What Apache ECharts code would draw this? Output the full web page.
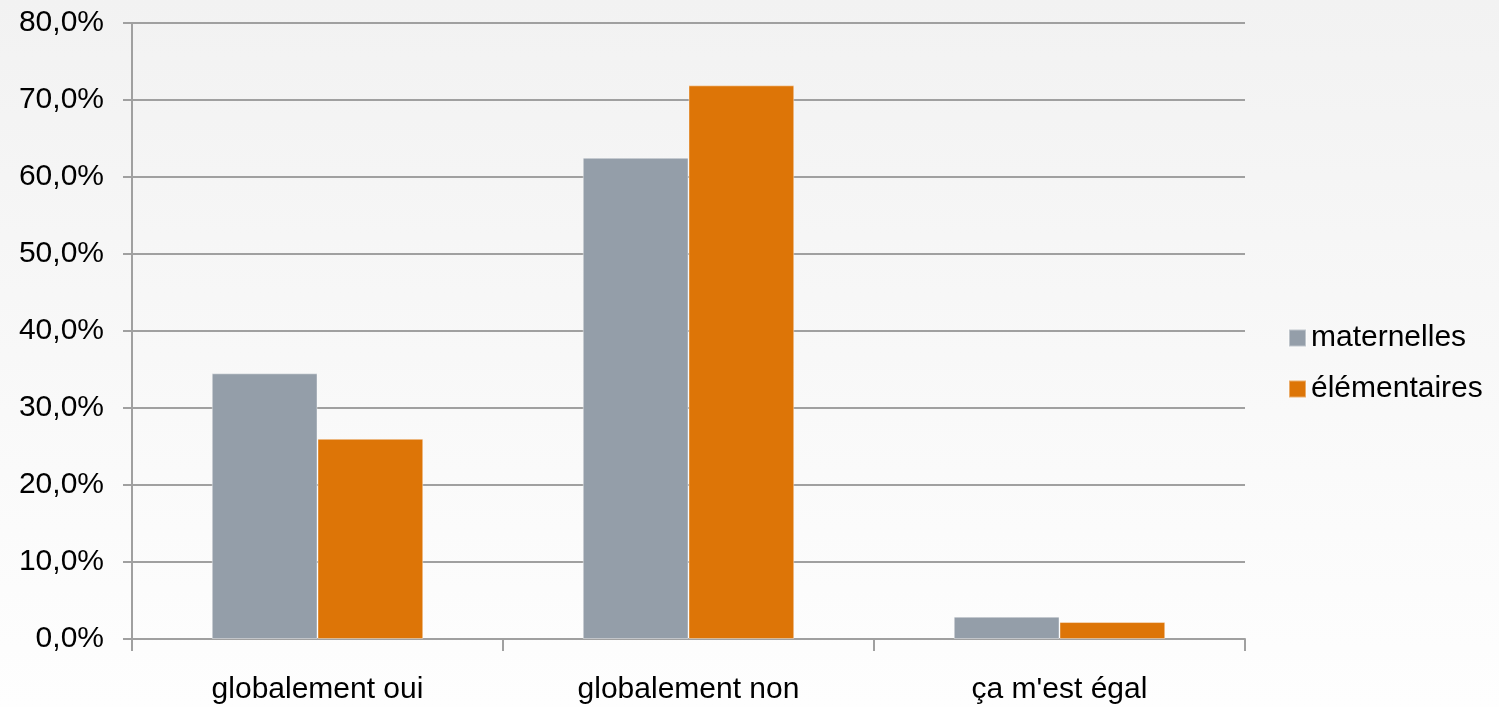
<!DOCTYPE html>
<html>
<head>
<meta charset="utf-8">
<script src="https://cdn.jsdelivr.net/npm/echarts@6/dist/echarts.min.js"></script>
<style>
html,body{margin:0;padding:0;}
#chart{width:1499px;height:707px;}
</style>
</head>
<body>
<div id="chart"></div>
<script>
const categories = ["globalement oui", "globalement non", "ça m'est égal"];
const maternelles = [34.5, 62.5, 2.9];
const elementaires = [26.0, 71.9, 2.2];
const seriesNames = ["maternelles", "élémentaires"];

const chart = echarts.init(document.getElementById('chart'));
const font = "'Liberation Sans', Arial, sans-serif";
const fs = 30;
chart.setOption({
  backgroundColor: {
    type: 'linear', x: 0, y: 0, x2: 0, y2: 1,
    colorStops: [{offset: 0, color: '#f2f2f2'}, {offset: 1, color: '#fefefe'}]
  },
  animation: false,
  grid: {left: 132, right: 254, top: 23, bottom: 68},
  legend: {
    orient: 'vertical',
    left: 1288,
    top: 323,
    padding: 0,
    itemWidth: 17,
    itemHeight: 17,
    itemGap: 21,
    icon: 'rect',
    textStyle: {fontFamily: font, fontSize: fs, lineHeight: 30, color: '#000'},
    data: seriesNames
  },
  xAxis: {
    type: 'category',
    data: categories,
    axisLine: {lineStyle: {color: '#a0a0a0', width: 2}},
    axisTick: {show: true, length: 12, lineStyle: {color: '#a0a0a0', width: 2}},
    axisLabel: {fontFamily: font, fontSize: fs, color: '#000', margin: 36}
  },
  yAxis: {
    type: 'value',
    min: 0, max: 80, interval: 10,
    axisLine: {show: true, lineStyle: {color: '#a0a0a0', width: 2}},
    axisTick: {show: true, length: 9, lineStyle: {color: '#a0a0a0', width: 2}},
    splitLine: {lineStyle: {color: '#a0a0a0', width: 2}},
    axisLabel: {
      fontFamily: font, fontSize: fs, color: '#000', margin: 28,
      formatter: v => v.toFixed(1).replace('.', ',') + '%'
    }
  },
  series: [
    {
      name: seriesNames[0], type: 'bar', data: maternelles,
      barGap: '0%', barCategoryGap: '43%',
      itemStyle: {color: '#949ea9', borderColor: 'rgba(255,255,255,0.4)', borderWidth: 1}
    },
    {
      name: seriesNames[1], type: 'bar', data: elementaires,
      barGap: '0%', barCategoryGap: '43%',
      itemStyle: {color: '#dd7507', borderColor: 'rgba(255,255,255,0.4)', borderWidth: 1}
    }
  ]
});
</script>
</body>
</html>
